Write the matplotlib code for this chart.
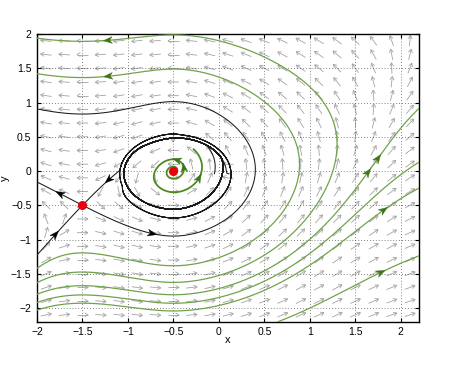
import numpy as np
import matplotlib
matplotlib.use('Agg')
import matplotlib.pyplot as plt
from matplotlib.collections import LineCollection
from matplotlib.patches import Polygon

plt.rcParams['font.family'] = ['Liberation Sans', 'DejaVu Sans']

# window and ticks
X_RANGE = [-2.0, 2.2]
Y_RANGE = [-2.2, 2.0]
TICKS = [-2, -1.5, -1, -0.5, 0, 0.5, 1, 1.5, 2]

# equilibria
FOCUS = (-0.5, 0.0)
SADDLE = (-1.5, -0.5)

# shape of the field (tuned by eye against the picture)
# x' = -v + f(u), f = a*u + b*u^2 (+ c*u^3 on the right)
F_LEFT = [0.3, -0.2]
F_RIGHT = [0.3, -0.567, 0.289]
# y' = K*u*(u+1)*(1+E*u) on the left, K*u/(1+D*u) + M*u^3 on the right
K_Q, E_Q, D_Q, M_Q = 1.5, 0.38, 0.45, 0.0
RING_C = (-0.48, -0.04)           # centre of the limit cycles
RING_RX, RING_RY = 0.56, 0.52
G_IN = -0.04
G_RING = 10.0
RING_R0 = 1.05
RING_W = 0.022

# starting points of the green orbits
GREEN_LEFT_Y = [-1.42, -1.63, -1.80, -1.92, -2.03]   # enter at x = -2
GREEN_BOTTOM_X = [0.65]                               # enter at y = -2.2
SPIRAL_START = (-0.485, 0.0)
SPIRAL_TIME = 17.0

# black orbits that wind onto the cycle
RING_STARTS = [(-0.05, -0.04), (0.11, -0.04)]
RING_TIME = 60.0

# arrowheads on the orbits
GREEN_ARROWS = [(-1.2, 1.68), (-1.2, 1.24), (1.57, 0.28), (1.73, -0.07),
                (1.79, -0.55), (1.73, -1.4)]
SPIRAL_ARROWS = [(-0.48, 0.12), (-0.29, 0.06), (-0.15, -0.13)]
BLACK_ARROWS = [(-1.74, -0.32), (-1.76, -0.95), (-1.25, -0.1), (-0.73, -0.9)]


def field(x, y):
    u = x - FOCUS[0]
    v = y - FOCUS[1]
    f = np.where(u < 0, F_LEFT[0] * u + F_LEFT[1] * u ** 2,
                 F_RIGHT[0] * u + F_RIGHT[1] * u ** 2 + F_RIGHT[2] * u ** 3)
    p = -v + f
    q = np.where(u < 0, K_Q * u * (u + 1) * (1 + E_Q * u),
                 K_Q * u / (1 + D_Q * np.abs(u)) + M_Q * u ** 3)
    a = x - RING_C[0]
    b = y - RING_C[1]
    r = np.sqrt((a / RING_RX) ** 2 + (b / RING_RY) ** 2)
    g = G_IN / (1 + r ** 8) + G_RING * np.exp(-((r - RING_R0) / RING_W) ** 2)
    return p - g * a, q - g * b


def outside(p, m=0.05):
    return (p[0] < X_RANGE[0] - m or p[0] > X_RANGE[1] + m or
            p[1] < Y_RANGE[0] - m or p[1] > Y_RANGE[1] + m)


def trace(p0, t_max, sign=1, dt=0.004):
    p = np.array(p0, dtype=float)
    pts = [p.copy()]
    f = lambda q: sign * np.array(field(q[0], q[1]), dtype=float)
    for _ in range(int(t_max / dt)):
        k1 = f(p)
        k2 = f(p + dt / 2 * k1)
        k3 = f(p + dt / 2 * k2)
        k4 = f(p + dt * k3)
        p = p + dt / 6 * (k1 + 2 * k2 + 2 * k3 + k4)
        pts.append(p.copy())
        if outside(p):
            break
    pts = np.array(pts)
    return pts if sign > 0 else pts[::-1]


def saddle_dirs():
    h = 1e-5
    sx, sy = SADDLE
    fx1 = np.array(field(sx + h, sy)); fx0 = np.array(field(sx - h, sy))
    fy1 = np.array(field(sx, sy + h)); fy0 = np.array(field(sx, sy - h))
    jac = np.column_stack([(fx1 - fx0) / (2 * h), (fy1 - fy0) / (2 * h)])
    vals, vecs = np.linalg.eig(jac)
    order = np.argsort(vals.real)
    return vecs[:, order[0]].real, vecs[:, order[1]].real


fig = plt.figure(figsize=(4.61, 3.70), dpi=100)
ax = fig.add_axes([0.0803, 0.1305, 0.8286, 0.7776])
ax.set_xlim(X_RANGE)
ax.set_ylim(Y_RANGE)
ax.set_xticks(TICKS)
ax.set_yticks(TICKS)
ax.set_xticklabels([f'{t:g}'.replace('-', '\u2212') for t in TICKS])
ax.set_yticklabels([f'{t:g}'.replace('-', '\u2212') for t in TICKS])
ax.tick_params(direction='in', length=3, width=0.8, top=True, right=True,
               labelsize=7.5, pad=4)
for s in ax.spines.values():
    s.set_linewidth(1.0)
ax.grid(True, linestyle=(0, (1, 2.5)), color='0.35', linewidth=0.6)
ax.set_xlabel('x', fontsize=8)
ax.set_ylabel('y', fontsize=8)
ax.xaxis.set_label_coords(0.5, -0.045)
ax.yaxis.set_label_coords(-0.07, 0.5)

# pixels per data unit, used to keep arrows the same size on screen
SX = ax.bbox.width / (X_RANGE[1] - X_RANGE[0])
SY = ax.bbox.height / (Y_RANGE[1] - Y_RANGE[0])


def dart(px, py, dx, dy, color, length=9.0, width=3.4, notch=2.6):
    a, b = dx * SX, dy * SY
    n = np.hypot(a, b)
    a, b = a / n, b / n
    shape = [(length / 2, 0), (-length / 2, width), (-length / 2 + notch, 0),
             (-length / 2, -width)]
    pts = [(px + (s * a - t * b) / SX, py + (s * b + t * a) / SY) for s, t in shape]
    ax.add_patch(Polygon(pts, closed=True, fc=color, ec=color, lw=0.3, zorder=5))


def put_arrows(curves, spots, color):
    for sx, sy in spots:
        best = None
        for c in curves:
            d = np.hypot(c[:, 0] - sx, c[:, 1] - sy)
            i = int(np.argmin(d))
            if best is None or d[i] < best[0]:
                best = (d[i], c, i)
        _, c, i = best
        i = min(max(i, 2), len(c) - 3)
        step = c[i + 2] - c[i - 2]
        dart(c[i, 0], c[i, 1], step[0], step[1], color)


# direction field
gx = np.arange(X_RANGE[0] + 0.1, X_RANGE[1], 0.2)
gy = np.arange(Y_RANGE[0] + 0.1, Y_RANGE[1], 0.2)
GX, GY = np.meshgrid(gx, gy)
U, V = field(GX, GY)
du, dv = U * SX, V * SY
n = np.hypot(du, dv) + 1e-12
du, dv = du / n, dv / n
L, H = 11.0, 4.0
segs = []
for cx, cy, a, b in zip(GX.ravel(), GY.ravel(), du.ravel(), dv.ravel()):
    tail = (cx - a * L / 2 / SX, cy - b * L / 2 / SY)
    tip = (cx + a * L / 2 / SX, cy + b * L / 2 / SY)
    segs.append([tail, tip])
    for ang in (np.radians(150), np.radians(-150)):
        ca, sa = np.cos(ang), np.sin(ang)
        hx, hy = a * ca - b * sa, a * sa + b * ca
        segs.append([tip, (tip[0] + hx * H / SX, tip[1] + hy * H / SY)])
ax.add_collection(LineCollection(segs, colors='0.64', linewidths=0.6, zorder=1))

# green orbits
green = []
for y0 in GREEN_LEFT_Y:
    green.append(trace((X_RANGE[0], y0), 40))
for x0 in GREEN_BOTTOM_X:
    green.append(trace((x0, Y_RANGE[0]), 40))
for c in green:
    ax.plot(c[:, 0], c[:, 1], color='#6fa34a', lw=0.9, zorder=3)
put_arrows(green, GREEN_ARROWS, '#3f7417')

spiral = trace(SPIRAL_START, SPIRAL_TIME)
ax.plot(spiral[:, 0], spiral[:, 1], color='#4e8a22', lw=1.3, zorder=3)
put_arrows([spiral], SPIRAL_ARROWS, '#3f7417')

# black orbits: separatrices of the saddle and orbits onto the cycle
stab, unst = saddle_dirs()
eps = 1e-3
black = []
for sgn in (1, -1):
    black.append(trace(np.array(SADDLE) + sgn * eps * unst, 60))
    black.append(trace(np.array(SADDLE) + sgn * eps * stab, 30, sign=-1))
for p0 in RING_STARTS:
    black.append(trace(p0, RING_TIME))
for c in black:
    ax.plot(c[:, 0], c[:, 1], color='#1a1a1a', lw=0.75, zorder=4)
put_arrows(black[:4], BLACK_ARROWS, 'black')

ax.plot(*FOCUS, 'o', color='#e8000b', ms=6.5, mec='none', zorder=6)
ax.plot(*SADDLE, 'o', color='#e8000b', ms=6.5, mec='none', zorder=6)

fig.savefig('out.png', dpi=100)
